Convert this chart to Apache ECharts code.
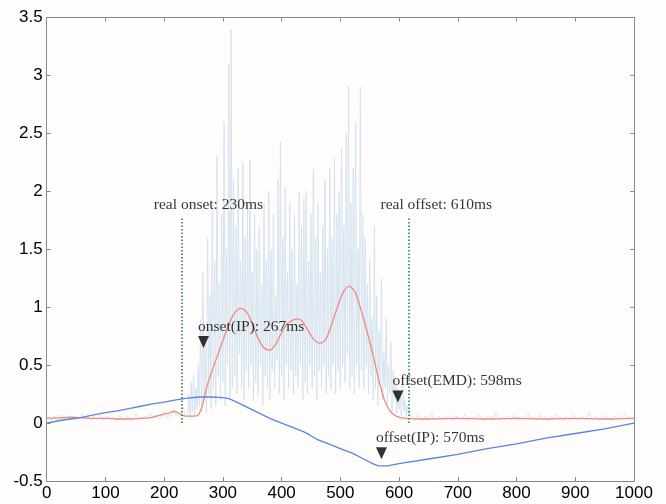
<!DOCTYPE html>
<html>
<head>
<meta charset="utf-8">
<script src="https://cdn.jsdelivr.net/npm/echarts@6/dist/echarts.min.js"></script>
<style>html,body{margin:0;padding:0;background:#fffdfc;}#c{width:666px;height:504px;}</style>
</head>
<body>
<div id="c"></div>
<script>
// ---- axis settings ----
const xMin = 0, xMax = 1000, xStep = 100;
const yMin = -0.5, yMax = 3.5, yStep = 0.5;

// ---- raw EMG-like signal (light) : three sampled segments ----
const emgPreStart = 0, emgPreStep = 4;
const emgPre = [0.03,0.05,0.02,0.06,0.04,0.03,0.07,0.02,0.05,0.04,
0.03,0.06,0.05,0.02,0.04,0.08,0.03,0.05,0.04,0.02,
0.06,0.03,0.05,0.07,0.02,0.04,0.06,0.03,0.05,0.04,
0.02,0.07,0.04,0.03,0.06,0.05,0.02,0.04,0.08,0.03,
0.05,0.04,0.06,0.03,0.09,0.05,0.04,0.07,0.03,0.06,
0.1,0.04,0.08,0.05,0.12,0.06,0.09,0.05,0.14,0.07];
const emgBurstStart = 240, emgBurstStep = 2;
const emgBurst = [0.08,0.25,0.05,0.35,0.1,0.42,0.06,0.3,0.12,0.5,
0.15,0.9,0.1,1.3,0.2,0.7,0.08,1.6,0.25,1.1,
0.12,1.9,0.3,1.4,0.15,2.3,0.4,1.2,0.2,1.8,
0.35,2.6,0.15,1.5,0.5,3.1,0.2,3.4,0.3,2.1,
0.4,1.7,0.25,2.2,0.6,1.4,0.3,2.25,0.2,1.6,
0.45,1.9,0.3,2.27,0.5,1.3,0.2,1.8,0.35,1.5,
0.25,1.7,0.5,1.2,0.15,1.9,0.4,1.4,0.3,2.0,
0.2,1.5,0.45,1.8,0.3,1.1,0.55,2.1,0.25,2.43,
0.4,1.6,0.2,2.03,0.5,1.3,0.3,1.9,0.45,1.5,
0.25,1.8,0.4,1.2,0.3,2.0,0.5,1.7,0.2,1.94,
0.35,2.0,0.25,1.4,0.5,1.8,0.3,2.19,0.4,1.6,
0.2,1.9,0.45,1.3,0.3,1.7,0.5,2.1,0.25,1.5,
0.4,2.2,0.3,1.6,0.5,2.29,0.25,1.8,0.45,2.0,
0.3,2.38,0.5,1.7,0.35,2.5,0.6,2.91,0.3,1.9,
0.4,2.2,0.25,2.6,0.5,1.5,0.3,2.9,0.45,1.8,
0.3,1.6,0.5,1.2,0.25,1.4,0.4,0.9,0.2,1.7,
0.3,1.1,0.15,0.8,0.35,1.25,0.2,0.6,0.3,0.9,
0.15,0.5,0.25,0.7,0.1,0.45,0.2,0.35,0.08,0.3,
0.12,0.25,0.06,0.4,0.1,0.2,0.05,0.15,0.08,0.12,
0.06];
const emgPostStart = 624, emgPostStep = 4;
const emgPost = [0.05,0.03,0.07,0.04,0.02,0.06,0.03,0.05,0.08,0.03,
0.04,0.06,0.02,0.05,0.03,0.07,0.04,0.02,0.06,0.05,
0.03,0.04,0.08,0.02,0.05,0.03,0.06,0.04,0.07,0.03,
0.02,0.05,0.04,0.06,0.03,0.09,0.04,0.02,0.05,0.03,
0.06,0.04,0.03,0.07,0.02,0.05,0.04,0.03,0.06,0.08,
0.03,0.05,0.02,0.04,0.07,0.03,0.05,0.04,0.02,0.06,
0.03,0.08,0.04,0.05,0.02,0.06,0.03,0.04,0.07,0.05,
0.02,0.04,0.06,0.03,0.05,0.09,0.04,0.03,0.06,0.02,
0.05,0.04,0.07,0.03,0.05,0.02,0.06,0.04,0.03,0.05,
0.08,0.04,0.06,0.03,0.05];

// ---- EMD envelope (red) ----
const envTime = [0,20,40,60,80,100,120,140,160,180,195,210,218,225,232,240,250,257,265,273,285,295,310,320,330,340,350,360,370,380,390,400,410,420,428,435,445,455,465,475,485,495,505,515,525,535,545,555,565,575,585,595,610,650,700,750,800,850,900,950,1000];
const envValue = [0.04,0.045,0.05,0.045,0.04,0.04,0.035,0.035,0.04,0.05,0.07,0.09,0.1,0.085,0.065,0.06,0.06,0.065,0.15,0.32,0.5,0.64,0.85,0.95,0.99,0.96,0.86,0.73,0.65,0.63,0.68,0.78,0.86,0.89,0.9,0.88,0.8,0.72,0.69,0.72,0.85,1.0,1.13,1.18,1.13,0.98,0.8,0.6,0.38,0.2,0.1,0.06,0.04,0.035,0.04,0.035,0.04,0.035,0.04,0.035,0.04];

// ---- IP curve (blue) ----
const ipTime = [0,20,40,60,80,100,120,140,160,180,200,220,240,260,280,300,310,320,340,360,380,400,420,440,460,480,500,520,540,555,565,580,600,650,700,750,800,850,900,950,1000];
const ipValue = [0.0,0.02,0.035,0.05,0.07,0.09,0.105,0.125,0.145,0.165,0.18,0.2,0.215,0.225,0.225,0.22,0.21,0.19,0.14,0.09,0.04,0.0,-0.04,-0.08,-0.14,-0.18,-0.22,-0.26,-0.31,-0.35,-0.37,-0.37,-0.35,-0.31,-0.27,-0.22,-0.18,-0.13,-0.09,-0.05,0.0];

// ---- annotations ----
const realMarks = [{name:'real onset: 230ms', t:230, top:1.78},{name:'real offset: 610ms', t:616, top:1.78}];
const detectNames = ['onset(IP): 267ms','offset(EMD): 598ms','offset(IP): 570ms'];
const detectTime = [267, 598, 570];
const detectValue = [0.70, 0.23, -0.26];

function seg(start, step, vals){ return vals.map((v,i)=>[start+i*step, v]); }
const emgData = seg(emgPreStart,emgPreStep,emgPre).concat(seg(emgBurstStart,emgBurstStep,emgBurst)).concat(seg(emgPostStart,emgPostStep,emgPost));

const axisColor = '#7f8c96';
const serif = '"Liberation Serif", "Times New Roman", serif';
const sans = '"Liberation Sans", Arial, Helvetica, sans-serif';
const plain = v => String(v);

const chart = echarts.init(document.getElementById('c'), null, {renderer:'canvas'});
chart.setOption({
  backgroundColor:'#fffdfc',
  animation:false,
  grid:{left:46.7, right:32, top:17.5, bottom:23, containLabel:false},
  xAxis:[
    {type:'value', min:xMin, max:xMax, interval:xStep, position:'bottom',
     axisLine:{show:true, onZero:false, lineStyle:{color:axisColor, width:1}}, axisTick:{show:true, inside:true, length:4, lineStyle:{color:axisColor}},
     axisLabel:{color:'#000', fontFamily:sans, fontSize:17, margin:4, formatter:plain}, splitLine:{show:false}},
    {type:'value', min:xMin, max:xMax, interval:xStep, position:'top',
     axisLine:{show:true, onZero:false, lineStyle:{color:axisColor, width:1}}, axisTick:{show:true, inside:true, length:4, lineStyle:{color:axisColor}},
     axisLabel:{show:false}, splitLine:{show:false}}
  ],
  yAxis:[
    {type:'value', min:yMin, max:yMax, interval:yStep, position:'left',
     axisLine:{show:true, onZero:false, lineStyle:{color:axisColor, width:1}}, axisTick:{show:true, inside:true, length:4, lineStyle:{color:axisColor}},
     axisLabel:{color:'#000', fontFamily:sans, fontSize:17, margin:4, formatter:plain}, splitLine:{show:false}},
    {type:'value', min:yMin, max:yMax, interval:yStep, position:'right',
     axisLine:{show:true, onZero:false, lineStyle:{color:axisColor, width:1}}, axisTick:{show:true, inside:true, length:4, lineStyle:{color:axisColor}},
     axisLabel:{show:false}, splitLine:{show:false}}
  ],
  series:[
    {type:'line', name:'signal', data:emgData, showSymbol:false, symbol:'none',
     lineStyle:{color:'#d2e1ee', width:0.9}, z:1, silent:true},
    {type:'line', name:'EMD', data:envTime.map((t,i)=>[t,envValue[i]]), showSymbol:false, symbol:'none', smooth:0.3,
     lineStyle:{color:'#f08a7c', width:1.3}, z:2},
    {type:'line', name:'IP', data:ipTime.map((t,i)=>[t,ipValue[i]]), showSymbol:false, symbol:'none',
     lineStyle:{color:'#5a86da', width:1.3}, z:3},
    {type:'scatter', name:'real', data:realMarks.map(m=>({value:[m.t,m.top], name:m.name})),
     symbolSize:0, z:4,
     label:{show:true, formatter:p=>p.name, position:[-28,-12], align:'left', verticalAlign:'middle',
       fontFamily:serif, fontSize:15.5, color:'#000'},
     markLine:{silent:true, symbol:'none', label:{show:false},
       lineStyle:{color:'#1c8a55', type:[1.5,2], width:1.6},
       data:realMarks.map(m=>[{coord:[m.t,0]},{coord:[m.t,m.top]}])}},
    {type:'scatter', name:'detect', data:detectTime.map((t,i)=>({value:[t,detectValue[i]], name:detectNames[i]})),
     symbol:'triangle', symbolRotate:180, symbolSize:[11,12], itemStyle:{color:'#000'}, z:5,
     label:{show:true, formatter:p=>p.name, position:[0,-9], align:'left', verticalAlign:'middle',
       fontFamily:serif, fontSize:15.5, color:'#000'}}
  ]
});
</script>
</body>
</html>
